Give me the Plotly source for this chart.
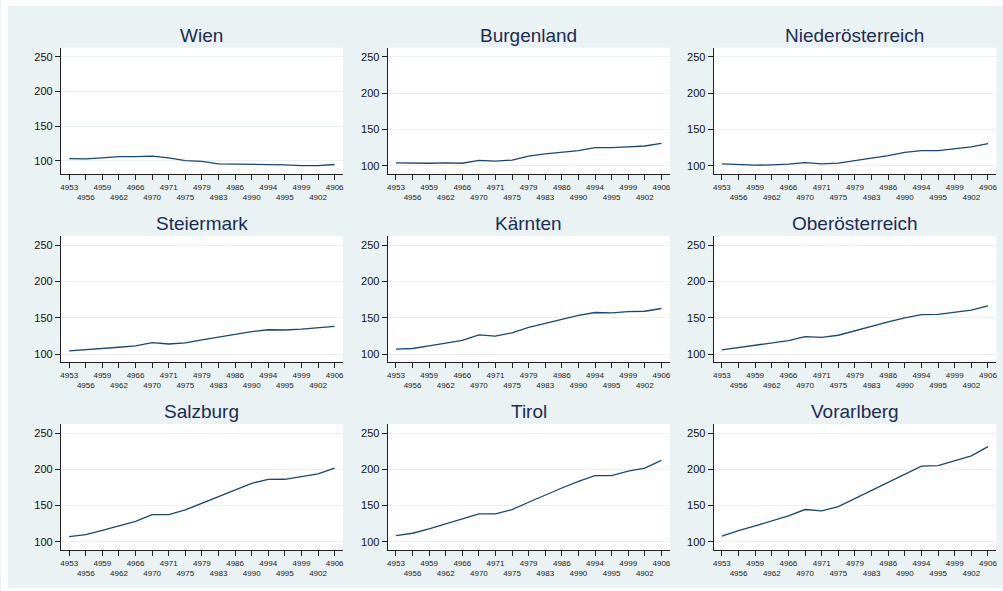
import plotly.graph_objects as go
from plotly.subplots import make_subplots

# Period labels on the shared category axis
periods = ["4953", "4956", "4959", "4962", "4966", "4970", "4971", "4975", "4979",
           "4983", "4986", "4990", "4994", "4995", "4999", "4902", "4906"]

regions = ["Wien", "Burgenland", "Niederösterreich",
           "Steiermark", "Kärnten", "Oberösterreich",
           "Salzburg", "Tirol", "Vorarlberg"]

wien = [103, 102.5, 104, 106, 106, 106.5, 104, 100, 99, 95.5, 95, 95, 94.5, 94, 93, 93, 94.5]
burgenland = [104, 103.6, 103.6, 104, 103.6, 107.5, 106.4, 108, 113.5, 116.4, 118.2, 121, 125, 125, 126.2, 127.3, 131]
niederoesterreich = [102.8, 101.4, 100.9, 101.4, 102.3, 104.5, 102.8, 103.7, 106.9, 110.5, 114, 118.5, 121, 121, 123.4, 126, 130.7]
steiermark = [104.5, 105.9, 107.3, 109.5, 111.4, 115.8, 114, 115.5, 119.5, 123.5, 127.3, 130.9, 133.6, 133.2, 134.5, 135.9, 138.3]
kaernten = [106.9, 107.8, 111.5, 115, 118.8, 126.5, 124.8, 129.4, 136.7, 142.2, 148, 153.2, 157.3, 156.9, 158.5, 159, 162.8]
oberoesterreich = [105.9, 109.1, 112.3, 115.5, 118.6, 124, 123.2, 126, 132.3, 138.6, 144.5, 150, 154.5, 154.6, 157.3, 160.5, 166.5]
salzburg = [107.3, 110, 116, 122, 128.4, 137.6, 137.7, 144, 153.2, 162.4, 172, 180.7, 186.2, 186.3, 190, 193.6, 201.8]
tirol = [108.7, 111.9, 117.9, 124.8, 130.7, 138.5, 138.5, 144.5, 154.6, 164.7, 174.3, 183.5, 191.3, 191.4, 197.7, 201.8, 212.4]
vorarlberg = [107.8, 115.6, 122, 128.9, 135.8, 144.6, 142.7, 148.7, 159.7, 170.7, 181.8, 193.7, 204.3, 205.2, 212, 218.5, 231.4]

series = [wien, burgenland, niederoesterreich,
          steiermark, kaernten, oberoesterreich,
          salzburg, tirol, vorarlberg]

y_ticks = [100, 150, 200, 250]

W, H = 1003, 591
BG = "#EAF2F3"
LINE = "#1A476F"
TITLE = "#1B2C55"
FONT = "Arial, Liberation Sans, sans-serif"

# panel geometry in pixels (left, right) and (top, bottom)
cols_px = [(60, 342.6), (387.4, 670), (714, 997.3)]
rows_px = [(47.7, 174), (236, 362.3), (424, 550)]
title_y_px = [35.5, 223, 411.5]

fig = make_subplots(rows=3, cols=3)

# staggered tick labels: every second one on a second line
tick_text = [p if i % 2 == 0 else "<br>" + p for i, p in enumerate(periods)]

for k, (name, vals) in enumerate(zip(regions, series)):
    r, c = divmod(k, 3)
    fig.add_trace(go.Scatter(x=list(range(len(periods))), y=vals, mode="lines",
                             line=dict(color=LINE, width=1.3), showlegend=False,
                             hoverinfo="skip"),
                  row=r + 1, col=c + 1)
    x0, x1 = cols_px[c]
    t, b = rows_px[r]
    idx = "" if k == 0 else str(k + 1)
    yr = [80.8, 263.0] if name == "Wien" else [88.8, 262.5]
    fig.layout["xaxis" + idx].update(
        domain=[x0 / W, x1 / W], range=[-0.5, len(periods) - 0.5],
        tickmode="array", tickvals=list(range(len(periods))), ticktext=tick_text,
        showline=True, linecolor="#222", linewidth=1, ticks="outside",
        ticklen=5, tickcolor="#222", tickwidth=1, showgrid=False, zeroline=False,
        tickfont=dict(family=FONT, size=8, color="#222"), tickangle=0)
    fig.layout["yaxis" + idx].update(
        domain=[1 - b / H, 1 - t / H], range=yr,
        tickmode="array", tickvals=y_ticks,
        showline=True, linecolor="#222", linewidth=1, ticks="outside",
        ticklen=5, tickcolor="#222", tickwidth=1, showgrid=True,
        gridcolor=BG, gridwidth=1.2, zeroline=False,
        tickfont=dict(family=FONT, size=11, color="#111"))
    fig.add_annotation(text=name, x=(x0 + x1) / 2 / W, y=1 - title_y_px[r] / H,
                       xref="paper", yref="paper", xanchor="center", yanchor="middle",
                       showarrow=False, font=dict(family=FONT, size=19, color=TITLE))

# white margin around the graph region
white = dict(type="rect", xref="paper", yref="paper", fillcolor="white",
             line=dict(width=0), layer="below")
fig.add_shape(x0=0, x1=7 / W, y0=0, y1=1, **white)
fig.add_shape(x0=0, x1=1, y0=1 - 6 / H, y1=1, **white)
fig.add_shape(x0=0, x1=1, y0=0, y1=1 - 588 / H, **white)

fig.update_layout(width=W, height=H, margin=dict(l=0, r=0, t=0, b=0),
                  paper_bgcolor=BG, plot_bgcolor="white",
                  font=dict(family=FONT))

fig.write_html("out.html")
